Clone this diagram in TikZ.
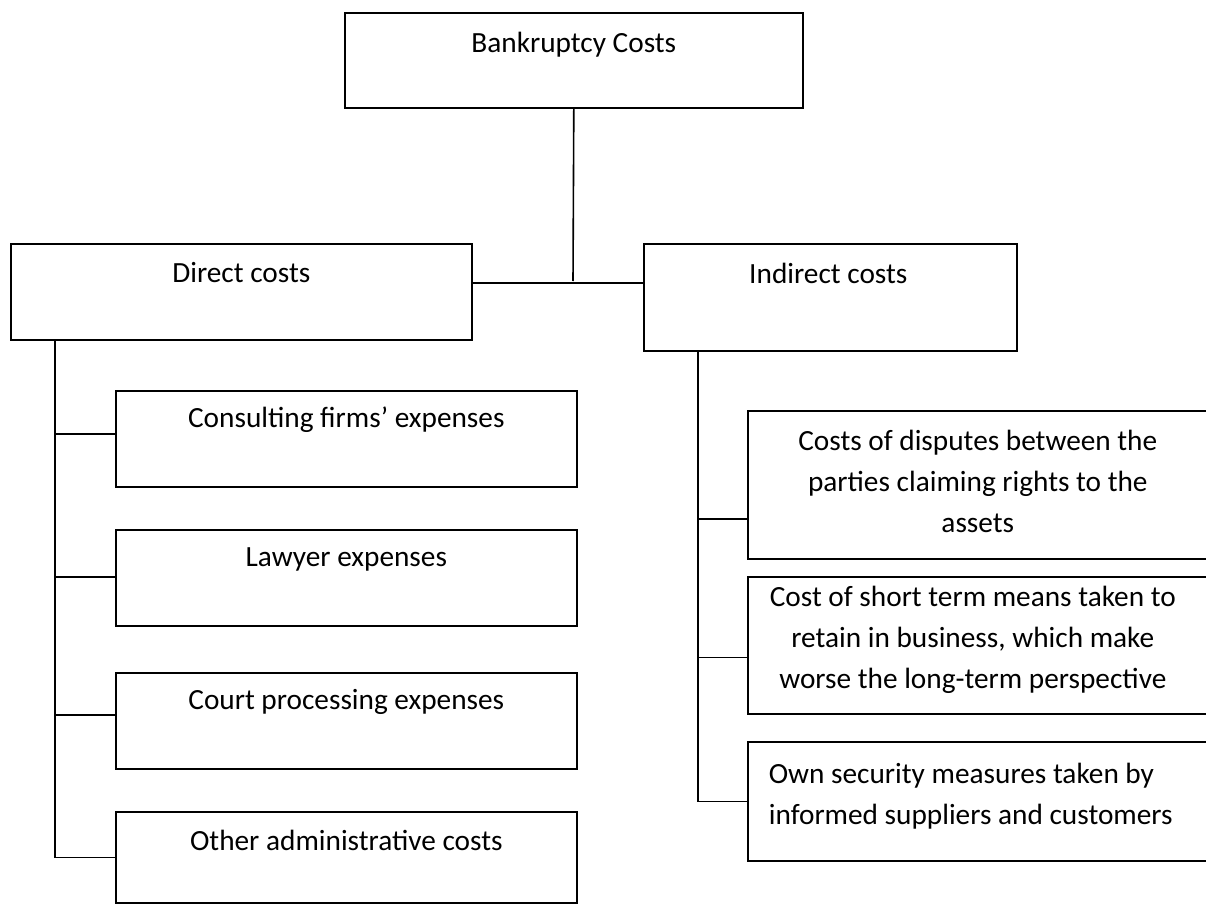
\documentclass[tikz,border=0pt]{standalone}
\usepackage{fontspec}
\setmainfont{Carlito}
\begin{document}
\begin{tikzpicture}[x=1pt, y=-1pt, line width=1.6pt,
	box/.style={draw, rectangle, anchor=north west, inner sep=0pt},
	lbl/.style={anchor=north, inner sep=0pt, align=center, font=\fontsize{29.3}{41}\selectfont}]
	\useasboundingbox (0,0) rectangle (1206,904);
	\clip (0,0) rectangle (1206,904);
	% top and second level
	\node[box, minimum width=458pt, minimum height=95pt] (bc) at (344,12) {};
	\node[box, minimum width=461pt, minimum height=96pt] (dc) at (10,243) {};
	\node[box, minimum width=373pt, minimum height=107pt] (ic) at (643,243) {};
	\node[lbl] (tbc) at ([yshift=-11pt]bc.north) {\strut Bankruptcy Costs};
	\node[lbl] (tdc) at ([yshift=-10pt]dc.north) {\strut Direct costs};
	\node[lbl] (tic) at ([xshift=-2pt, yshift=-11pt]ic.north) {\strut Indirect costs};
	% direct costs
	\node[box, minimum width=461pt, minimum height=96pt] (c1) at (115,390) {};
	\node[box, minimum width=461pt, minimum height=96pt] (c2) at (115,529) {};
	\node[box, minimum width=461pt, minimum height=96pt] (c3) at (115,672) {};
	\node[box, minimum width=461pt, minimum height=91pt] (c4) at (115,811) {};
	\node[lbl] (tc1) at ([yshift=-8pt]c1.north) {\strut Consulting firms’ expenses};
	\node[lbl] (tc2) at ([yshift=-8pt]c2.north) {\strut Lawyer expenses};
	\node[lbl] (tc3) at ([yshift=-8pt]c3.north) {\strut Court processing expenses};
	\node[lbl] (tc4) at ([yshift=-10pt]c4.north) {\strut Other administrative costs};
	% indirect costs
	\node[box, minimum width=468pt, minimum height=148pt] (i1) at (747,410) {};
	\node[box, minimum width=468pt, minimum height=137pt] (i2) at (747,576) {};
	\node[box, minimum width=468pt, minimum height=119pt] (i3) at (747,741) {};
	\node[lbl] (ti1) at ([xshift=-4pt, yshift=-11pt]i1.north) {\strut Costs of disputes between the\\parties claiming rights to the\\assets};
	\node[lbl] (ti2) at ([xshift=-9pt, yshift=-1pt]i2.north) {\strut Cost of short term means taken to\\retain in business, which make\\worse the long-term perspective};
	\node[lbl, anchor=north west, align=left] (ti3) at ([xshift=21pt, yshift=-13pt]i3.north west) {\strut Own security measures taken by\\informed suppliers and customers};
	% connectors
	\coordinate (j) at (573,281);
	\coordinate (dtrunk) at (55,339);
	\coordinate (itrunk) at (698,350);
	\draw (bc.south) -- (j);
	\draw (dc.east |- 0,283) -- (ic.west |- 0,283);
	\draw (dtrunk) |- ([yshift=5pt]c1.west);
	\draw (dtrunk) |- ([yshift=1pt]c2.west);
	\draw (dtrunk) |- ([yshift=6pt]c3.west);
	\draw (dtrunk) |- (c4.west);
	\draw (itrunk) |- ([yshift=-34pt]i1.west);
	\draw (itrunk) |- ([yshift=-12pt]i2.west);
	\draw (itrunk) |- (i3.west);
\end{tikzpicture}
\end{document}
